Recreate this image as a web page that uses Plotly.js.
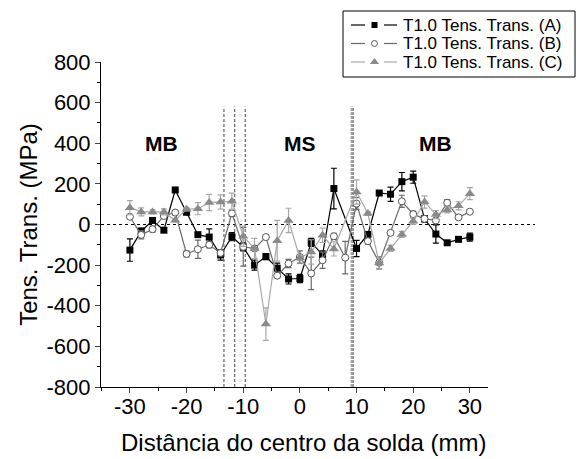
<!DOCTYPE html>
<html>
<head>
<meta charset="utf-8">
<script src="https://cdn.plot.ly/plotly-3.0.1.min.js"></script>
<style>html,body{margin:0;padding:0;background:#fff}#chart{width:577px;height:459px}</style>
</head>
<body>
<div id="chart"></div>
<script>
// Data (positions in mm, stress in MPa)
const xA = [-30,-28,-26,-24,-22,-20,-18,-16,-14,-12,-10,-8,-6,-4,-2,0,2,4,6,10,12,14,16,18,20,22,24,26,28,30];
const yA = [-126,-33,20,-28,170,60,-50,-62,-150,-60,-110,-200,-158,-215,-268,-266,-88,-150,177,-118,-49,155,149,211,233,28,-47,-90,-73,-62];
const eA = [55,15,10,10,10,10,10,40,25,20,20,25,15,25,25,20,20,20,100,40,10,10,35,45,30,15,45,10,10,20];

const xB = [-30,-28,-26,-24,-22,-20,-18,-16,-14,-12,-10,-8,-6,-4,-2,0,2,4,6,8,10,12,14,16,18,20,22,24,26,28,30];
const yB = [38,-51,-23,42,59,-145,-122,-100,-140,55,-110,-118,-62,-252,-192,-160,-241,-176,-58,-163,103,-82,-188,-41,114,51,28,20,107,35,63];
const eB = [8,20,15,10,10,15,45,15,15,15,95,10,10,10,20,30,80,40,15,80,30,15,30,10,30,15,10,8,15,10,8];

const xC = [-30,-28,-26,-24,-22,-20,-18,-16,-14,-12,-10,-8,-6,-4,-2,0,2,4,6,10,12,14,16,18,20,22,24,26,28,30];
const yC = [83,62,62,62,21,75,78,108,111,114,-58,-118,-490,-80,20,-165,-135,-53,-120,160,54,-190,-118,-49,16,111,49,72,92,152];
const eC = [35,20,10,15,8,8,30,40,35,40,50,50,80,100,60,10,60,35,35,60,8,30,15,15,15,30,20,15,20,30];

const seriesNames = ['T1.0 Tens. Trans. (A)', 'T1.0 Tens. Trans. (B)', 'T1.0 Tens. Trans. (C)'];
const xTickVals = [-30,-20,-10,0,10,20,30];
const xTickText = ['-30','-20','-10','0','10','20','30'];
const yTickVals = [-800,-600,-400,-200,0,200,400,600,800];
const yTickText = ['-800','-600','-400','-200','0','200','400','600','800'];
const regionLabels = ['MB','MS','MB'];
const regionX = [-24.5, 0, 24];
const zoneLinesLeft = [-13.4, -11.5, -9.65];
const zoneLinesRight = [9.05, 9.25, 9.45];

// ---- layout geometry (pixels) ----
const W = 577, H = 459;
const mL = 101, mR = 2, mT = 10, mB = 72;
const pw = W - mL - mR, ph = H - mT - mB;
const plotRight = 488, plotTop = 62;
const px2x = p => (p - mL) / pw;
const px2y = p => (H - mB - p) / ph;

const styles = [
  {line:{color:'#000000', width:1.2}, marker:{symbol:'square', size:7, color:'#000000'}, err:'#000000'},
  {line:{color:'#6a6a6a', width:1.2}, marker:{symbol:'circle', size:7, color:'#ffffff', line:{color:'#555555', width:1}}, err:'#6a6a6a'},
  {line:{color:'#a8a8a8', width:1.2}, marker:{symbol:'triangle-up', size:9, color:'#8a8a8a'}, err:'#a8a8a8'}
];
const legMarkers = [
  {symbol:'square', size:6, color:'#000000'},
  {symbol:'circle', size:6, color:'#ffffff', line:{color:'#555555', width:1}},
  {symbol:'triangle-up', size:8, color:'#8a8a8a'}
];
const xs = [xA, xB, xC], ys = [yA, yB, yC], es = [eA, eB, eC];

const traces = xs.map((x, i) => ({
  x:x, y:ys[i], name:seriesNames[i], type:'scatter', mode:'lines+markers', showlegend:false,
  xaxis:'x', yaxis:'y',
  line:styles[i].line, marker:styles[i].marker,
  error_y:{type:'data', array:es[i], visible:true, color:styles[i].err, thickness:1.2, width:3}
}));

// custom legend drawn in a pixel-mapped overlay subplot
const legBox = {x0:343, x1:575, y0:11, y1:77};
const legRows = [25, 43.5, 62];
legRows.forEach((ry, i) => {
  traces.push({x:[351,365,null,384,397], y:[ry,ry,null,ry,ry], xaxis:'x2', yaxis:'y2', mode:'lines',
    line:{color:styles[i].line.color, width:1.2}, showlegend:false, hoverinfo:'skip'});
  traces.push({x:[374.5], y:[ry], xaxis:'x2', yaxis:'y2', mode:'markers',
    marker:legMarkers[i], showlegend:false, hoverinfo:'skip'});
});

const shapes = [];
shapes.push({type:'line', xref:'paper', yref:'paper', x0:0, x1:px2x(535), y0:px2y((62+387)/2), y1:px2y((62+387)/2),
  line:{color:'#000', width:1, dash:'dot'}, layer:'below'});
zoneLinesLeft.forEach(v => shapes.push({type:'line', xref:'x', yref:'y', x0:v, x1:v, y0:-800, y1:580,
  line:{color:'#444', width:1, dash:'3px,2px'}, layer:'below'}));
zoneLinesRight.forEach(v => shapes.push({type:'line', xref:'x', yref:'y', x0:v, x1:v, y0:-800, y1:580,
  line:{color:'#888', width:1, dash:'3px,1px'}, layer:'below'}));
shapes.push({type:'rect', xref:'paper', yref:'paper', x0:px2x(legBox.x0), x1:px2x(legBox.x1), y0:px2y(legBox.y1), y1:px2y(legBox.y0),
  line:{color:'#000', width:1}, fillcolor:'rgba(0,0,0,0)', layer:'below'});

const annotations = regionLabels.map((t,i) => ({x:regionX[i], y:400, xref:'x', yref:'y', text:'<b>'+t+'</b>',
  showarrow:false, font:{family:'Liberation Sans, Arial', size:21, color:'#000'}}));
legRows.forEach((ry, i) => annotations.push({x:401, y:ry, xref:'x2', yref:'y2', xanchor:'left', yanchor:'middle',
  text:seriesNames[i], showarrow:false, font:{family:'Liberation Sans, Arial', size:17, color:'#000'}}));
annotations.push({x:px2x(303), y:px2y(442), xref:'paper', yref:'paper', xanchor:'center', yanchor:'middle',
  text:'Distância do centro da solda (mm)', showarrow:false, font:{family:'Liberation Sans, Arial', size:24, color:'#000'}});

const layout = {
  width:W, height:H,
  margin:{l:mL, r:mR, t:mT, b:mB},
  paper_bgcolor:'#fff', plot_bgcolor:'rgba(0,0,0,0)',
  font:{family:'Liberation Sans, Arial', color:'#000'},
  showlegend:false,
  xaxis:{domain:[0, px2x(plotRight)], range:[-35.1, 33.2], tickvals:xTickVals, ticktext:xTickText,
    ticks:'outside', ticklen:5, tickwidth:1, anchor:'y', ticklabelstandoff:-5,
    showline:true, linecolor:'#000', linewidth:1, showgrid:false, zeroline:false, automargin:false,
    minor:{dtick:5, tick0:0, ticks:'outside', ticklen:3, tickcolor:'#000'},
    tickfont:{size:22}},
  yaxis:{domain:[0, px2y(plotTop)], range:[-800, 800], tickvals:yTickVals, ticktext:yTickText,
    ticks:'outside', ticklen:5, tickwidth:1, anchor:'x',
    showline:true, linecolor:'#000', linewidth:1, showgrid:false, zeroline:false, automargin:false,
    minor:{dtick:100, ticks:'outside', ticklen:3, tickcolor:'#000'},
    tickfont:{size:22}, title:{text:'Tens. Trans. (MPa)', font:{size:24}, standoff:2}},
  xaxis2:{domain:[px2x(legBox.x0), 1], range:[legBox.x0, W - mR], visible:false, anchor:'y2', fixedrange:true},
  yaxis2:{domain:[px2y(80), 1], range:[80, mT], visible:false, anchor:'x2', fixedrange:true},
  shapes:shapes,
  annotations:annotations
};

Plotly.newPlot('chart', traces, layout, {displayModeBar:false, staticPlot:true});
</script>
</body>
</html>
